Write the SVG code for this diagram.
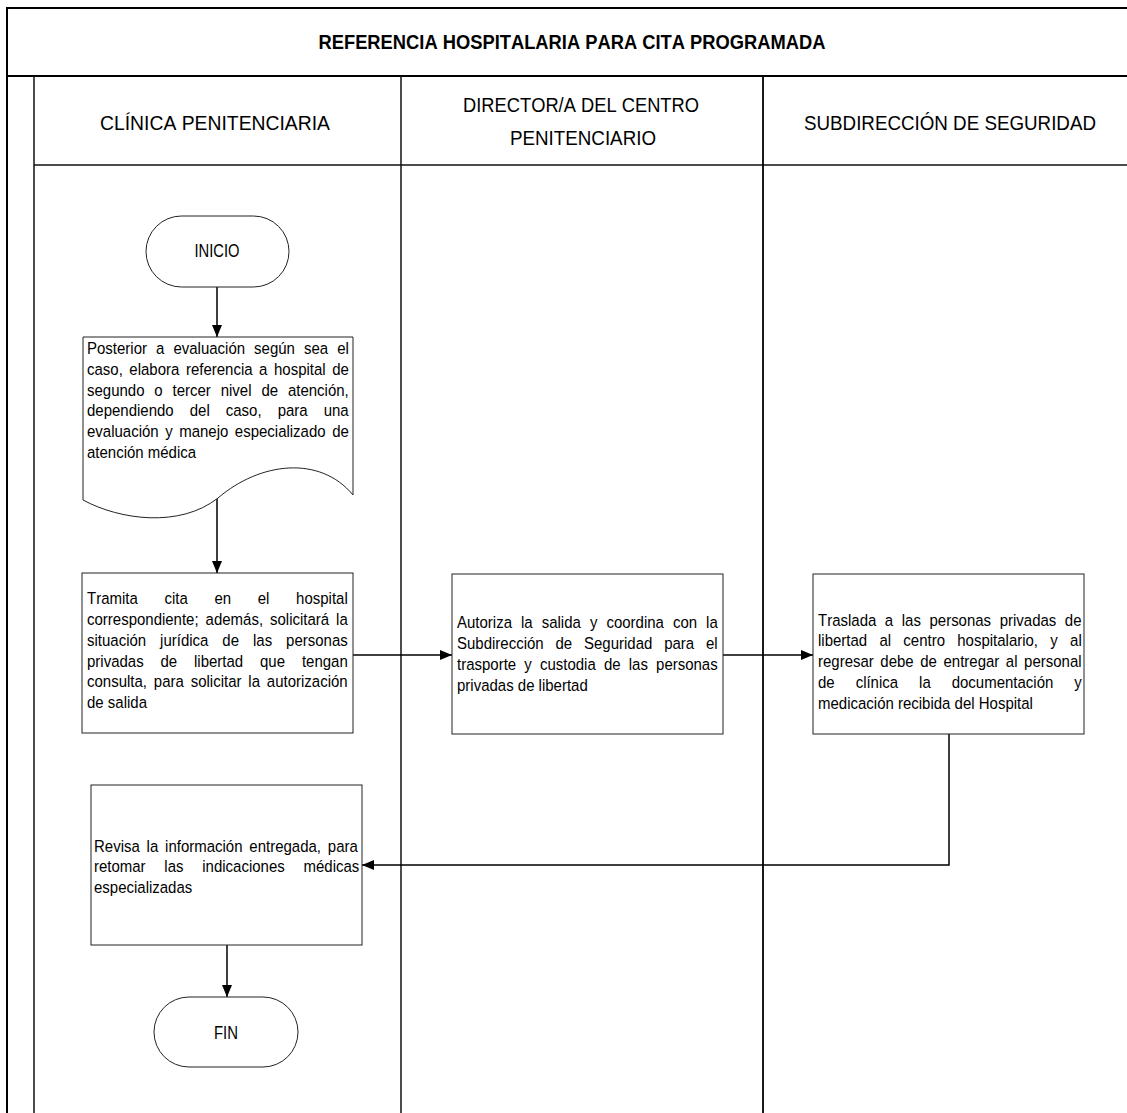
<svg xmlns="http://www.w3.org/2000/svg" width="1127" height="1113" viewBox="0 0 1127 1113">
  <defs>
    <marker id="arrow" markerUnits="userSpaceOnUse" markerWidth="12" markerHeight="10" refX="12" refY="5" orient="auto">
      <path d="M0,0 L12,5 L0,10 Z" fill="#000"/>
    </marker>
    <style>
      text { font-family: "Liberation Sans", Arial, sans-serif; fill: #000; font-kerning: none; }
      .title { font-size: 19.5px; font-weight: bold; text-anchor: middle; }
      .lane { font-size: 19.5px; text-anchor: middle; }
      .body { font-size: 16.5px; }
      .term { font-size: 18.5px; text-anchor: middle; }
      .frame { stroke: #000; stroke-width: 2; fill: none; }
      .divider { stroke: #111; stroke-width: 1.5; fill: none; }
      .box { fill: #fff; stroke: #222; stroke-width: 1; }
      .conn { stroke: #000; stroke-width: 1.5; fill: none; marker-end: url(#arrow); }
    </style>
  </defs>

  <rect width="1127" height="1113" fill="#fff"/>

  <!-- swimlane frame and lane headings -->
  <g id="frame">
    <line class="frame" x1="7" y1="8" x2="1127" y2="8"/>
    <line class="frame" x1="7" y1="7" x2="7" y2="1113"/>
    <line class="frame" x1="7" y1="76" x2="1127" y2="76"/>
    <line class="divider" x1="34" y1="76" x2="34" y2="1113"/>
    <line class="divider" x1="34" y1="165" x2="1127" y2="165" stroke="#444"/>
    <line class="divider" x1="401" y1="76" x2="401" y2="1113"/>
    <line class="frame" x1="763" y1="76" x2="763" y2="1113" style="stroke-width:1.8"/>
    <text class="title" x="572" y="49" textLength="507" lengthAdjust="spacingAndGlyphs">REFERENCIA HOSPITALARIA PARA CITA PROGRAMADA</text>
    <text class="lane" x="215" y="130" textLength="230" lengthAdjust="spacingAndGlyphs">CLÍNICA PENITENCIARIA</text>
    <text class="lane" x="581" y="112" textLength="236" lengthAdjust="spacingAndGlyphs">DIRECTOR/A DEL CENTRO</text>
    <text class="lane" x="583" y="145" textLength="146" lengthAdjust="spacingAndGlyphs">PENITENCIARIO</text>
    <text class="lane" x="950" y="130" textLength="292" lengthAdjust="spacingAndGlyphs">SUBDIRECCIÓN DE SEGURIDAD</text>
  </g>

  <!-- connectors -->
  <g id="connectors">
    <line class="conn" x1="217" y1="287" x2="217" y2="337"/>
    <line class="conn" x1="217" y1="498" x2="217" y2="573"/>
    <line class="conn" x1="353" y1="655" x2="452" y2="655"/>
    <line class="conn" x1="723" y1="655" x2="813" y2="655"/>
    <polyline class="conn" points="949,734 949,865 362,865"/>
    <line class="conn" x1="227" y1="945" x2="227" y2="997"/>
  </g>

  <g id="inicio">
    <rect class="box" x="146" y="216" width="143" height="71" rx="35.5" ry="35.5"/>
    <text class="term" x="217" y="257" textLength="45" lengthAdjust="spacingAndGlyphs">INICIO</text>
  </g>

  <!-- body text is set in a condensed face: scaled 0.9091 horizontally, x values in local units -->
  <g id="elabora-referencia">
    <path class="box" d="M83,337 H353 V495 C320,455 260,462 218,498 C180,528 120,520 83,500 Z"/>
    <g transform="scale(0.9091,1)">
      <text class="body" x="95.7" y="354" word-spacing="5.39">Posterior a evaluación según sea el</text>
      <text class="body" x="95.7" y="375" word-spacing="2.64">caso, elabora referencia a hospital de</text>
      <text class="body" x="95.7" y="396" word-spacing="6.27">segundo o tercer nivel de atención,</text>
      <text class="body" x="95.7" y="416" word-spacing="13.09">dependiendo del caso, para una</text>
      <text class="body" x="95.7" y="437" word-spacing="2.59">evaluación y manejo especializado de</text>
      <text class="body" x="95.7" y="458">atención médica</text>
    </g>
  </g>

  <g id="tramita-cita">
    <rect class="box" x="82" y="573" width="271" height="160"/>
    <g transform="scale(0.9091,1)">
      <text class="body" x="95.7" y="604" word-spacing="24.75">Tramita cita en el hospital</text>
      <text class="body" x="95.7" y="625" word-spacing="3.08">correspondiente; además, solicitará la</text>
      <text class="body" x="95.7" y="646" word-spacing="10.78">situación jurídica de las personas</text>
      <text class="body" x="95.7" y="667" word-spacing="13.97">privadas de libertad que tengan</text>
      <text class="body" x="95.7" y="687" word-spacing="2.97">consulta, para solicitar la autorización</text>
      <text class="body" x="95.7" y="708">de salida</text>
    </g>
  </g>

  <g id="autoriza-salida">
    <rect class="box" x="452" y="574" width="271" height="160"/>
    <g transform="scale(0.9091,1)">
      <text class="body" x="502.7" y="628" word-spacing="5.36">Autoriza la salida y coordina con la</text>
      <text class="body" x="502.7" y="649" word-spacing="8.47">Subdirección de Seguridad para el</text>
      <text class="body" x="502.7" y="670" word-spacing="4.4">trasporte y custodia de las personas</text>
      <text class="body" x="502.7" y="691">privadas de libertad</text>
    </g>
  </g>

  <g id="traslada">
    <rect class="box" x="813" y="574" width="271" height="160"/>
    <g transform="scale(0.9091,1)">
      <text class="body" x="899.8" y="626" word-spacing="4.84">Traslada a las personas privadas de</text>
      <text class="body" x="899.8" y="646" word-spacing="8.91">libertad al centro hospitalario, y al</text>
      <text class="body" x="899.8" y="667" word-spacing="2.64">regresar debe de entregar al personal</text>
      <text class="body" x="899.8" y="688" word-spacing="18.48">de clínica la documentación y</text>
      <text class="body" x="899.8" y="709">medicación recibida del Hospital</text>
    </g>
  </g>

  <g id="revisa">
    <rect class="box" x="91" y="785" width="271" height="160"/>
    <g transform="scale(0.9091,1)">
      <text class="body" x="103.4" y="852" word-spacing="2.92">Revisa la información entregada, para</text>
      <text class="body" x="103.4" y="872" word-spacing="16.06">retomar las indicaciones médicas</text>
      <text class="body" x="103.4" y="893">especializadas</text>
    </g>
  </g>

  <g id="fin">
    <rect class="box" x="154" y="997" width="144" height="70" rx="35" ry="35"/>
    <text class="term" x="226" y="1039" textLength="24" lengthAdjust="spacingAndGlyphs">FIN</text>
  </g>
</svg>
